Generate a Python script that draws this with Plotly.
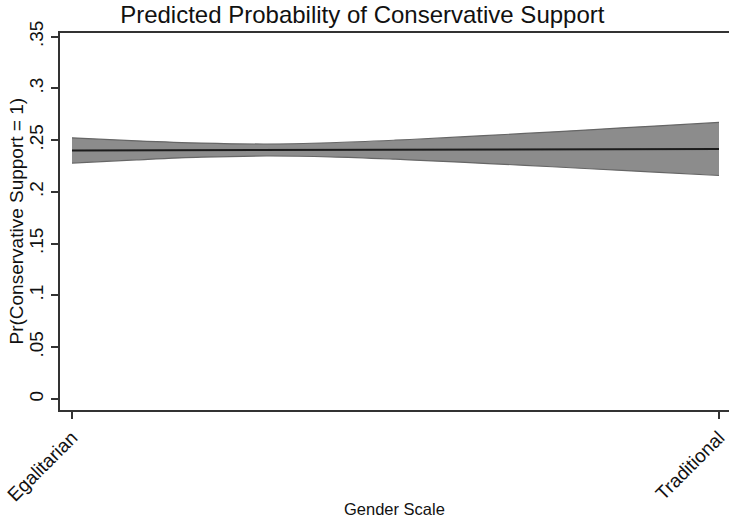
import plotly.graph_objects as go

# Gender scale positions (0 = Egalitarian, 1 = Traditional)
gender_scale = [0.0, 0.1, 0.2, 0.3, 0.4, 0.5, 0.6, 0.7, 0.8, 0.9, 1.0]
# Predicted probability and 95% confidence bounds
pred_prob = [0.2401, 0.2402, 0.2404, 0.2405, 0.2407, 0.2408, 0.2409, 0.2411, 0.2412, 0.2414, 0.2415]
ci_lower = [0.2279, 0.2310, 0.2336, 0.2347, 0.2339, 0.2316, 0.2287, 0.2257, 0.2224, 0.2192, 0.2159]
ci_upper = [0.2523, 0.2494, 0.2472, 0.2463, 0.2475, 0.2500, 0.2531, 0.2565, 0.2600, 0.2636, 0.2671]

x_tick_vals = [0, 1]
x_tick_text = ["Egalitarian", "Traditional"]
y_tick_vals = [0, 0.05, 0.1, 0.15, 0.2, 0.25, 0.3, 0.35]
y_tick_text = ["0", ".05", ".1", ".15", ".2", ".25", ".3", ".35"]

FONT = "Liberation Sans, Arial, Helvetica, sans-serif"

fig = go.Figure()

# Confidence band
fig.add_trace(go.Scatter(
    x=gender_scale, y=ci_upper, mode="lines",
    line=dict(color="#666666", width=1.2, shape="spline", smoothing=1.0),
    hoverinfo="skip", showlegend=False,
))
fig.add_trace(go.Scatter(
    x=gender_scale, y=ci_lower, mode="lines",
    line=dict(color="#666666", width=1.2, shape="spline", smoothing=1.0),
    fill="tonexty", fillcolor="#8c8c8c",
    hoverinfo="skip", showlegend=False,
))
# Predicted probability line
fig.add_trace(go.Scatter(
    x=gender_scale, y=pred_prob, mode="lines",
    line=dict(color="#1c1c1c", width=2),
    showlegend=False,
))

fig.update_layout(
    width=729, height=524,
    margin=dict(l=60, r=0, t=33, b=114),
    paper_bgcolor="white", plot_bgcolor="white",
    font=dict(family=FONT, color="#111111"),
    title=dict(
        text="Predicted Probability of Conservative Support",
        x=0.497, xref="container", xanchor="center",
        y=1 - 15 / 524, yref="container", yanchor="middle",
        font=dict(size=24, color="#111111", family=FONT),
    ),
    xaxis=dict(
        range=[-0.01855, 1.01546],
        tickvals=x_tick_vals, ticktext=x_tick_text,
        tickangle=-45, ticks="outside", ticklen=7, tickwidth=1.5,
        tickcolor="#333333", tickfont=dict(size=19, family=FONT),
        showline=True, linecolor="#333333", linewidth=2, mirror=True,
        showgrid=False, zeroline=False,
    ),
    yaxis=dict(
        range=[-0.0106, 0.3535],
        tickvals=y_tick_vals, ticktext=y_tick_text,
        tickangle=-90, ticks="outside", ticklen=7, tickwidth=1.5,
        tickcolor="#333333", tickfont=dict(size=19, family=FONT),
        showline=True, linecolor="#333333", linewidth=2,
        showgrid=False, zeroline=False,
    ),
    annotations=[
        dict(text="Gender Scale", xref="paper", yref="paper",
             x=0.5, y=(524 - 509 - 114) / 377, xanchor="center", yanchor="middle",
             showarrow=False, font=dict(size=16.5, family=FONT, color="#111111")),
        dict(text="Pr(Conservative Support = 1)", xref="paper", yref="paper",
             x=(16 - 60) / 669, y=0.5, xanchor="center", yanchor="middle",
             textangle=-90, showarrow=False,
             font=dict(size=19, family=FONT, color="#111111")),
    ],
)

fig.write_html("out.html")
